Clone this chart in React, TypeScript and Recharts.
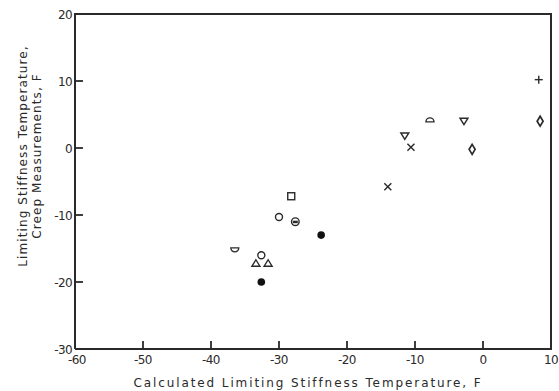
import React from 'react';
import { ScatterChart, Scatter, XAxis, YAxis } from 'recharts';

const xDomain: [number, number] = [-60, 10];
const yDomain: [number, number] = [-30, 20];
const xTicks = [-60, -50, -40, -30, -20, -10, 0, 10];
const yTicks = [-30, -20, -10, 0, 10, 20];

const plusPts = [{ x: 8.2, y: 10.2 }];
const diamondPts = [{ x: 8.4, y: 4 }, { x: -1.6, y: -0.2 }];
const triDownPts = [{ x: -2.8, y: 4 }, { x: -11.5, y: 1.8 }];
const domePts = [{ x: -7.8, y: 4.2 }];
const bowlPts = [{ x: -36.5, y: -15.2 }];
const crossPts = [{ x: -10.6, y: 0.1 }, { x: -14, y: -5.8 }];
const squarePts = [{ x: -28.2, y: -7.2 }];
const openCirclePts = [{ x: -30, y: -10.3 }, { x: -32.6, y: -16 }];
const barCirclePts = [{ x: -27.6, y: -11 }];
const filledCirclePts = [{ x: -23.8, y: -13 }, { x: -32.6, y: -20 }];
const triUpPts = [{ x: -33.4, y: -17.2 }, { x: -31.6, y: -17.2 }];

const yTitleLines = ['Limiting Stiffness Temperature,', 'Creep Measurements, F'];
const xTitle = 'Calculated Limiting Stiffness Temperature, F';

const tag = (arr: { x: number; y: number }[], kind: string) => arr.map((p) => ({ ...p, kind }));
const allPoints = [
  ...tag(plusPts, 'plus'),
  ...tag(diamondPts, 'diamond'),
  ...tag(triDownPts, 'triDown'),
  ...tag(domePts, 'dome'),
  ...tag(bowlPts, 'bowl'),
  ...tag(crossPts, 'cross'),
  ...tag(squarePts, 'square'),
  ...tag(openCirclePts, 'openCircle'),
  ...tag(barCirclePts, 'barCircle'),
  ...tag(filledCirclePts, 'filledCircle'),
  ...tag(triUpPts, 'triUp'),
];

// frame corners (from the axis domains) and tick mark anchors (from tick values)
const framePts = [
  { x: xDomain[0], y: yDomain[0] },
  { x: xDomain[0], y: yDomain[1] },
  { x: xDomain[1], y: yDomain[1] },
  { x: xDomain[1], y: yDomain[0] },
  { x: xDomain[0], y: yDomain[0] },
];
const xTickMarks = xTicks.filter((v) => v !== xDomain[0] && v !== xDomain[1]).map((v) => ({ x: v, y: yDomain[0] }));
const yTickMarks = yTicks.filter((v) => v !== yDomain[0] && v !== yDomain[1]).map((v) => ({ x: xDomain[0], y: v }));

const INK = '#2a2a2a';
const FONT = '"DejaVu Sans", sans-serif';
const sw = 1.4;

const renderMarker = (props: any) => {
  const { cx, cy, payload } = props;
  const kind = payload && payload.kind;
  switch (kind) {
    case 'plus':
      return (
        <g stroke={INK} strokeWidth={sw}>
          <line x1={cx - 4} x2={cx + 4} y1={cy} y2={cy} />
          <line x1={cx} x2={cx} y1={cy - 4} y2={cy + 4} />
        </g>
      );
    case 'cross':
      return (
        <g stroke={INK} strokeWidth={sw}>
          <line x1={cx - 3.5} x2={cx + 3.5} y1={cy - 3.5} y2={cy + 3.5} />
          <line x1={cx - 3.5} x2={cx + 3.5} y1={cy + 3.5} y2={cy - 3.5} />
        </g>
      );
    case 'diamond':
      return <path d={`M${cx},${cy - 5} L${cx + 3},${cy} L${cx},${cy + 5} L${cx - 3},${cy} Z`} fill="none" stroke={INK} strokeWidth={sw + 0.3} />;
    case 'triDown':
      return <path d={`M${cx - 4},${cy - 3} L${cx + 4},${cy - 3} L${cx},${cy + 3.5} Z`} fill="none" stroke={INK} strokeWidth={sw} />;
    case 'triUp':
      return <path d={`M${cx - 4},${cy + 3} L${cx + 4},${cy + 3} L${cx},${cy - 3.5} Z`} fill="none" stroke={INK} strokeWidth={sw} />;
    case 'dome':
      return <path d={`M${cx - 4},${cy + 2} A4,4 0 0 1 ${cx + 4},${cy + 2} Z`} fill="none" stroke={INK} strokeWidth={sw} />;
    case 'bowl':
      return <path d={`M${cx - 4},${cy - 2} A4,4 0 0 0 ${cx + 4},${cy - 2} Z`} fill="none" stroke={INK} strokeWidth={sw} />;
    case 'square':
      return <rect x={cx - 3.5} y={cy - 3.5} width={7} height={7} fill="none" stroke={INK} strokeWidth={sw} />;
    case 'openCircle':
      return <circle cx={cx} cy={cy} r={3.5} fill="none" stroke={INK} strokeWidth={sw} />;
    case 'barCircle':
      return (
        <g>
          <circle cx={cx} cy={cy} r={3.8} fill="none" stroke={INK} strokeWidth={sw} />
          <rect x={cx - 2.5} y={cy - 1} width={5} height={2.5} fill={INK} />
        </g>
      );
    case 'filledCircle':
      return <circle cx={cx} cy={cy} r={3.8} fill="#111" />;
    default:
      return <g />;
  }
};

const renderXTickMark = (props: any) => {
  const { cx, cy } = props;
  return <line x1={cx} x2={cx} y1={cy} y2={cy - 8} stroke={INK} strokeWidth={1.8} />;
};
const renderYTickMark = (props: any) => {
  const { cx, cy } = props;
  return <line x1={cx} x2={cx + 8} y1={cy} y2={cy} stroke={INK} strokeWidth={1.8} />;
};

const renderXTick = (props: any) => {
  const { x, y, payload } = props;
  const v = payload.value;
  return (
    <text key={`xt-${v}`} x={v === xDomain[0] ? x + 2 : x} y={y + 15} textAnchor="middle" fontFamily={FONT} fontSize={12} fill={INK} letterSpacing={-0.6}>
      {v}
    </text>
  );
};

const renderYTick = (props: any) => {
  const { x, y, payload } = props;
  const v = payload.value;
  return (
    <text key={`yt-${v}`} x={x - 3} y={y + 4.5} textAnchor="end" fontFamily={FONT} fontSize={12} fill={INK} letterSpacing={-0.6}>
      {v}
    </text>
  );
};

export default function App() {
  return (
    <div style={{ position: 'absolute', left: 0, top: 0, width: 559, height: 391, background: '#fff' }}>
      <ScatterChart width={559} height={391} margin={{ top: 14, right: 8, bottom: 0, left: 0 }}>
        <XAxis type="number" dataKey="x" domain={xDomain} ticks={xTicks} height={42} tickSize={0} tickMargin={0} axisLine={false} tickLine={false} tick={renderXTick} />
        <YAxis type="number" dataKey="y" domain={yDomain} ticks={yTicks} width={75} tickSize={0} tickMargin={0} axisLine={false} tickLine={false} tick={renderYTick} />
        <Scatter data={framePts} line={{ stroke: INK, strokeWidth: 2 }} lineType="joint" shape={() => <g />} isAnimationActive={false} />
        <Scatter data={xTickMarks} shape={renderXTickMark} isAnimationActive={false} />
        <Scatter data={yTickMarks} shape={renderYTickMark} isAnimationActive={false} />
        <Scatter data={allPoints} shape={renderMarker} isAnimationActive={false} />
      </ScatterChart>
      <svg width={559} height={391} style={{ position: 'absolute', left: 0, top: 0, pointerEvents: 'none' }}>
        <g fontFamily={FONT} fontSize={12} fill={INK} letterSpacing={1.1}>
          <text transform="translate(27,156) rotate(-90)" textAnchor="middle">{yTitleLines[0]}</text>
          <text transform="translate(41,156) rotate(-90)" textAnchor="middle">{yTitleLines[1]}</text>
        </g>
        <text x={308} y={387} textAnchor="middle" fontFamily={FONT} fontSize={12} fill={INK} letterSpacing={1.9}>
          {xTitle}
        </text>
      </svg>
    </div>
  );
}
